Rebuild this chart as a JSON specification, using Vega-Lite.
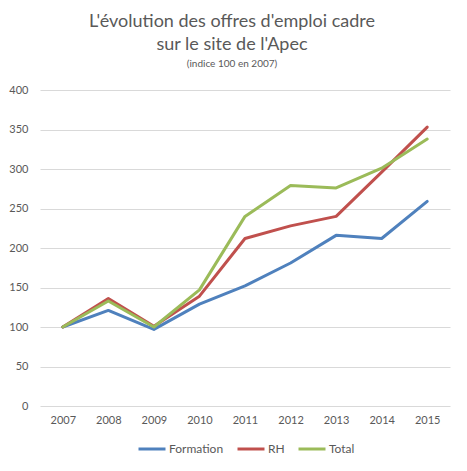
{
  "$schema": "https://vega.github.io/schema/vega-lite/v6.json",
  "autosize": {"type": "none"},
  "width": 410,
  "height": 316,
  "padding": {"left": 40, "top": 90, "right": 17, "bottom": 65},
  "background": "white",
  "title": {
    "text": ["L'évolution des offres d'emploi cadre", "sur le site de l'Apec"],
    "subtitle": "(indice 100 en 2007)",
    "anchor": "middle",
    "dx": -13,
    "font": "Lato",
    "fontSize": 18,
    "fontWeight": "normal",
    "color": "#595959",
    "lineHeight": 23,
    "subtitleFont": "Lato",
    "subtitleFontSize": 10,
    "subtitleColor": "#595959",
    "subtitlePadding": 5,
    "offset": 15
  },
  "data": {
    "values": [
      {"annee": "2007", "serie": "Formation", "indice": 100},
      {"annee": "2008", "serie": "Formation", "indice": 121},
      {"annee": "2009", "serie": "Formation", "indice": 97},
      {"annee": "2010", "serie": "Formation", "indice": 129},
      {"annee": "2011", "serie": "Formation", "indice": 152},
      {"annee": "2012", "serie": "Formation", "indice": 181},
      {"annee": "2013", "serie": "Formation", "indice": 216},
      {"annee": "2014", "serie": "Formation", "indice": 212},
      {"annee": "2015", "serie": "Formation", "indice": 259},
      {"annee": "2007", "serie": "RH", "indice": 100},
      {"annee": "2008", "serie": "RH", "indice": 136},
      {"annee": "2009", "serie": "RH", "indice": 101},
      {"annee": "2010", "serie": "RH", "indice": 139},
      {"annee": "2011", "serie": "RH", "indice": 212},
      {"annee": "2012", "serie": "RH", "indice": 228},
      {"annee": "2013", "serie": "RH", "indice": 240},
      {"annee": "2014", "serie": "RH", "indice": 296},
      {"annee": "2015", "serie": "RH", "indice": 353},
      {"annee": "2007", "serie": "Total", "indice": 100},
      {"annee": "2008", "serie": "Total", "indice": 133},
      {"annee": "2009", "serie": "Total", "indice": 100},
      {"annee": "2010", "serie": "Total", "indice": 147},
      {"annee": "2011", "serie": "Total", "indice": 240},
      {"annee": "2012", "serie": "Total", "indice": 279},
      {"annee": "2013", "serie": "Total", "indice": 276},
      {"annee": "2014", "serie": "Total", "indice": 301},
      {"annee": "2015", "serie": "Total", "indice": 338}
    ]
  },
  "mark": {"type": "line", "strokeWidth": 3, "strokeCap": "round", "strokeJoin": "round"},
  "encoding": {
    "x": {
      "field": "annee",
      "type": "ordinal",
      "scale": {"type": "point", "padding": 0.5},
      "axis": {
        "title": null,
        "labelAngle": 0,
        "ticks": false,
        "domain": false,
        "grid": false,
        "labelPadding": 8,
        "labelFont": "Lato",
        "labelFontSize": 11,
        "labelColor": "#595959"
      }
    },
    "y": {
      "field": "indice",
      "type": "quantitative",
      "scale": {"domain": [0, 400], "nice": false},
      "axis": {
        "title": null,
        "values": [0, 50, 100, 150, 200, 250, 300, 350, 400],
        "ticks": false,
        "domain": false,
        "grid": true,
        "gridColor": "#d9d9d9",
        "gridWidth": 1,
        "labelPadding": 12,
        "labelFont": "Lato",
        "labelFontSize": 11,
        "labelColor": "#595959"
      }
    },
    "color": {
      "field": "serie",
      "type": "nominal",
      "scale": {"domain": ["Formation", "RH", "Total"], "range": ["#4F81BD", "#C0504D", "#9BBB59"]},
      "legend": {
        "title": null,
        "orient": "none",
        "legendX": 97,
        "legendY": 344,
        "padding": 0,
        "direction": "horizontal",
        "symbolType": "stroke",
        "symbolStrokeWidth": 3,
        "symbolSize": 729,
        "labelOffset": 2,
        "labelFont": "Lato",
        "labelFontSize": 12,
        "labelColor": "#595959",
        "columnPadding": 7
      }
    }
  },
  "config": {"view": {"stroke": null}}
}
